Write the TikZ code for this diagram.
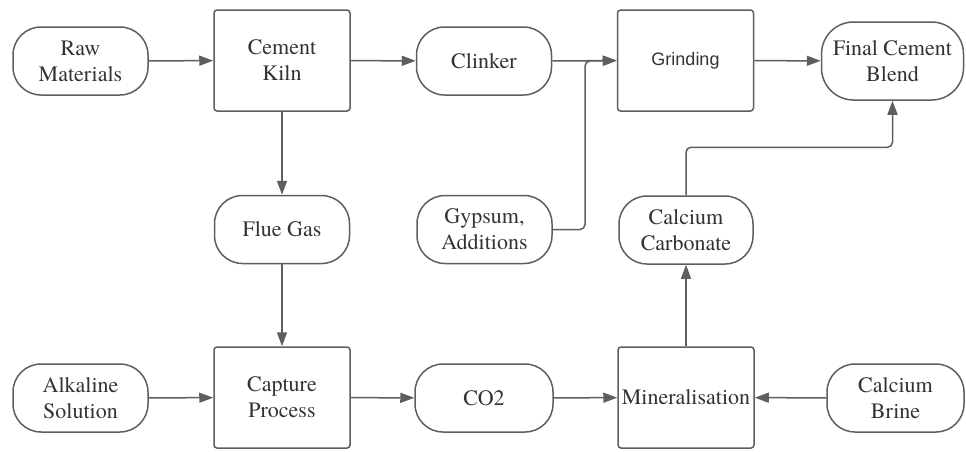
\documentclass[tikz,border=0pt]{standalone}
\usepackage{fontspec}
\newfontfamily\gserif{TeX Gyre Termes}
\newfontfamily\gsans{Liberation Sans}
\usetikzlibrary{arrows.meta}
\definecolor{ln}{HTML}{5E5E5E}
\definecolor{tx}{HTML}{333333}
\tikzset{
  base/.style={draw=ln, line width=1.5pt, text=tx, align=center, inner sep=0pt,
    font=\gserif\fontsize{22}{26}\selectfont},
  pill/.style={base, rounded corners=28pt, minimum width=135pt, minimum height=68pt},
  sq/.style={base, rounded corners=3pt, minimum width=136pt, minimum height=101pt},
  conn/.style={draw=ln, line width=1.5pt, -{Triangle[length=14pt,width=10pt]}},
  elbow/.style={conn, rounded corners=5pt},
}
\begin{document}
\begin{tikzpicture}[x=1pt,y=1pt]
\useasboundingbox (0,0) rectangle (966,-451);
% row 1
\node[pill] (raw) at (80.5,-61) {Raw\\Materials};
\node[sq] (kiln) at (282,-60.5) {Cement\\Kiln};
\node[pill] (clk) at (484,-61) {Clinker};
\node[sq, font=\gsans\fontsize{18}{22}\selectfont] (grd) at (685.5,-60.5) {Grinding};
\node[pill, minimum width=142pt, minimum height=78pt, rounded corners=32pt] (fin) at (892.5,-61) {Final Cement\\Blend};
% row 2
\node[pill] (flue) at (282,-229.5) {Flue Gas};
\node[pill] (gyp) at (484.5,-229.5) {Gypsum,\\Additions};
\node[pill, minimum width=134pt] (cc) at (686,-230) {Calcium\\Carbonate};
% row 3
\node[pill] (alk) at (80.5,-398) {Alkaline\\Solution};
\node[sq] (cap) at (282,-397.5) {Capture\\Process};
\node[pill, minimum width=138pt] (co2) at (484,-398) {CO2};
\node[sq] (min) at (686,-397.5) {Mineralisation};
\node[pill, minimum width=137pt] (brn) at (895.5,-398) {Calcium\\Brine};
\coordinate (j) at (585,-61);
% connectors
\draw[conn] (raw) -- (kiln);
\draw[conn] (kiln) -- (clk);
\draw[conn] (clk) -- (grd);
\draw[elbow] (gyp.east) -| (j) -- (grd.west);
\draw[conn] (grd) -- (fin);
\draw[conn] (kiln) -- (flue);
\draw[conn] (flue) -- (cap);
\draw[conn] (alk) -- (cap);
\draw[conn] (cap) -- (co2);
\draw[conn] (co2) -- (min);
\draw[conn] (brn) -- (min);
\draw[conn] (min) -- (cc);
\draw[elbow] (cc.north) -- ++(0,48) -| (fin.south);
\end{tikzpicture}
\end{document}
